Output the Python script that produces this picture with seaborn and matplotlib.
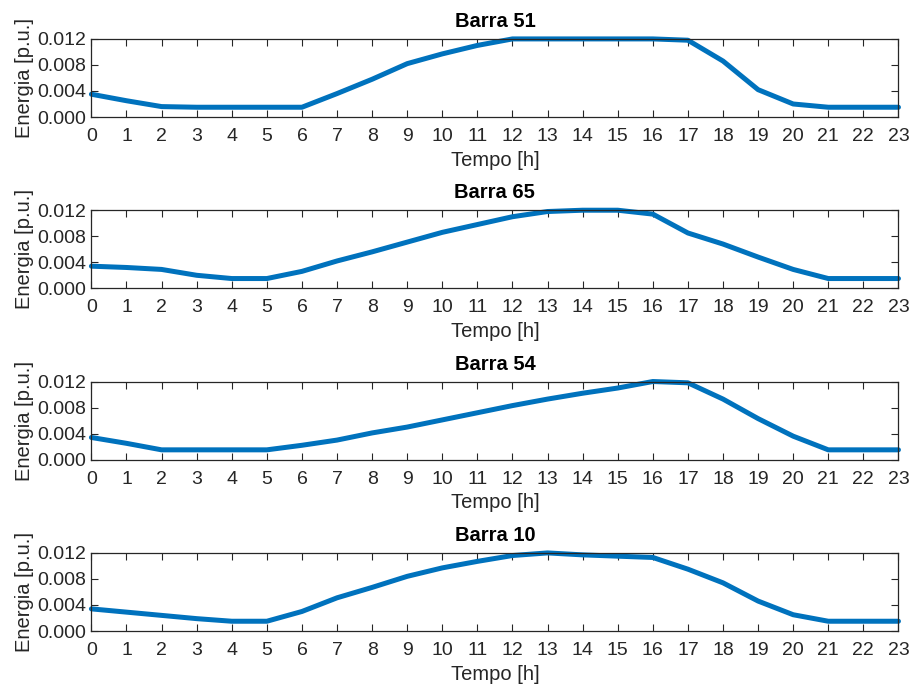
import numpy as np
import pandas as pd
import matplotlib
matplotlib.use("Agg")
import matplotlib.pyplot as plt
import seaborn as sns

hours = list(range(24))

barra_51 = [0.0035, 0.0025, 0.0016, 0.0015, 0.0015, 0.0015, 0.0015, 0.0036, 0.0058, 0.0082,
            0.0097, 0.0110, 0.0120, 0.0120, 0.0120, 0.0120, 0.0120, 0.0118, 0.0086, 0.0042,
            0.0020, 0.0015, 0.0015, 0.0015]
barra_65 = [0.0034, 0.0032, 0.0029, 0.0020, 0.0015, 0.0015, 0.0026, 0.0042, 0.0056, 0.0071,
            0.0086, 0.0098, 0.0110, 0.0118, 0.0120, 0.0120, 0.0114, 0.0085, 0.0068, 0.0048,
            0.0029, 0.0015, 0.0015, 0.0015]
barra_54 = [0.0034, 0.0025, 0.0015, 0.0015, 0.0015, 0.0015, 0.0022, 0.0030, 0.0041, 0.0050,
            0.0061, 0.0072, 0.0083, 0.0093, 0.0102, 0.0110, 0.0120, 0.0118, 0.0093, 0.0063,
            0.0036, 0.0015, 0.0015, 0.0015]
barra_10 = [0.0034, 0.0029, 0.0024, 0.0019, 0.0015, 0.0015, 0.0030, 0.0051, 0.0067, 0.0084,
            0.0097, 0.0107, 0.0116, 0.0120, 0.0117, 0.0115, 0.0113, 0.0095, 0.0074, 0.0046,
            0.0025, 0.0015, 0.0015, 0.0015]

titles = ["Barra 51", "Barra 65", "Barra 54", "Barra 10"]
series = [barra_51, barra_65, barra_54, barra_10]
yticks = [0.0, 0.004, 0.008, 0.012]

sns.set_style("ticks")
plt.rcParams['font.family'] = ['Liberation Sans', 'DejaVu Sans']
txt = "#262626"

fig = plt.figure(figsize=(9.14, 6.91), dpi=100)

left, width, height = 0.100, 0.883, 0.113
tops = [39, 210.3, 381.6, 553]

for top, title, vals in zip(tops, titles, series):
    ax = fig.add_axes([left, 1 - (top + 78) / 691, width, height])
    df = pd.DataFrame({"Tempo": hours, "Energia": vals})
    sns.lineplot(data=df, x="Tempo", y="Energia", ax=ax, color="#0072BD",
                 linewidth=3.6, clip_on=False)
    ax.set_xlim(0, 23)
    ax.set_ylim(0, 0.012)
    ax.set_xticks(hours)
    ax.set_yticks(yticks)
    ax.set_yticklabels([f"{v:.3f}" for v in yticks])
    ax.tick_params(direction="in", top=True, right=True, length=5, width=0.8,
                   labelsize=14, labelcolor=txt, color=txt)
    ax.tick_params(axis="x", pad=8)
    ax.tick_params(axis="y", pad=4)
    for s in ax.spines.values():
        s.set_visible(True)
        s.set_color(txt)
        s.set_linewidth(0.9)
    ax.set_title(title, fontsize=14.5, fontweight="bold", color="black", pad=8.5)
    ax.set_xlabel("Tempo [h]", fontsize=14.5, color=txt, labelpad=4)
    ax.set_ylabel("Energia [p.u.]", fontsize=14.5, color=txt, labelpad=2)

fig.savefig("out.png", dpi=100)
